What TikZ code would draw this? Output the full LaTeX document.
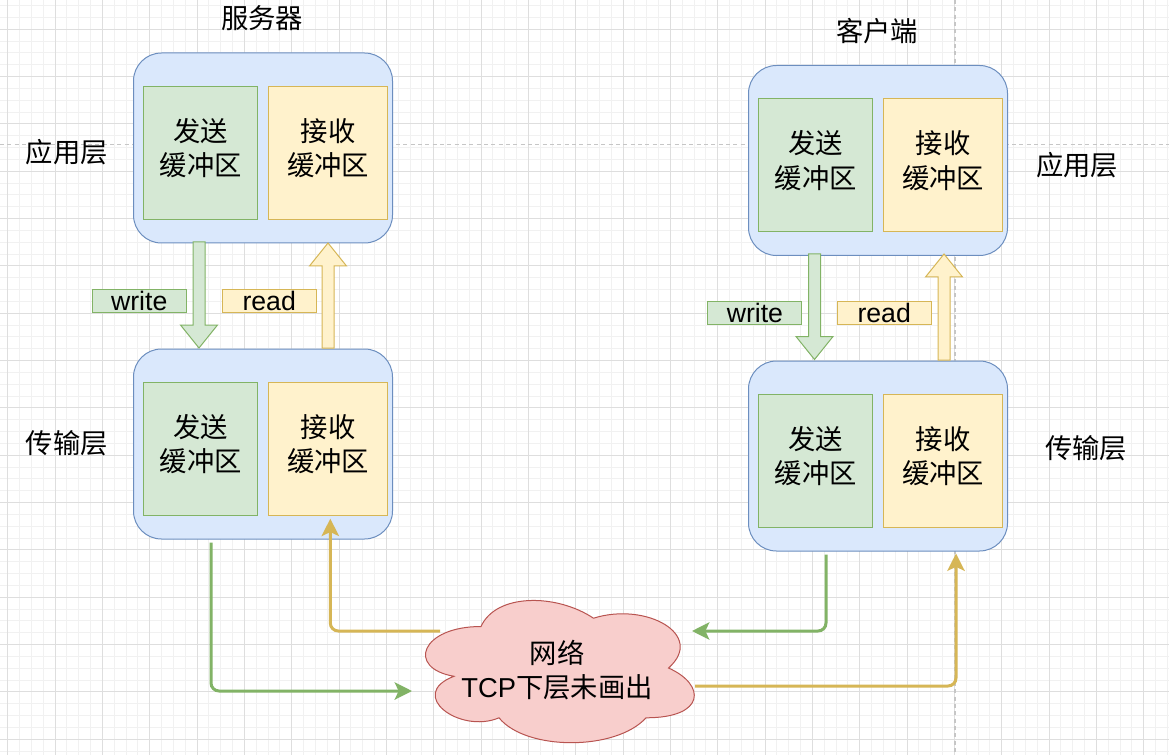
\documentclass[tikz,border=0pt]{standalone}
\usepackage{fontspec}
\newfontfamily\cjk{Noto Sans CJK SC}
\newfontfamily\lat{Liberation Sans}
\usetikzlibrary{arrows.meta,calc}

\definecolor{layerfill}{HTML}{DAE8FC}
\definecolor{layerdraw}{HTML}{6C8EBF}
\definecolor{sendfill}{HTML}{D5E8D4}
\definecolor{senddraw}{HTML}{82B366}
\definecolor{recvfill}{HTML}{FFF2CC}
\definecolor{recvdraw}{HTML}{D6B656}
\definecolor{netfill}{HTML}{F8CECC}
\definecolor{netdraw}{HTML}{B85450}
\definecolor{gridminor}{HTML}{F1F1F1}
\definecolor{gridmajor}{HTML}{DEDEDE}
\definecolor{pagebreak}{HTML}{C6C6C6}

\tikzset{every picture/.style={line width=0.75pt}}
\tikzset{
  txt/.style={font=\cjk\fontsize{20.5}{26}\selectfont, align=center, inner sep=0pt},
  layer/.style={draw=layerdraw, fill=layerfill, rounded corners=21pt, minimum width=194.25pt, minimum height=142.5pt, anchor=north west},
  sendbuf/.style={txt, text depth=8.5pt, draw=senddraw, fill=sendfill, minimum width=85.5pt, minimum height=99.75pt, anchor=north west},
  recvbuf/.style={txt, text depth=8.5pt, draw=recvdraw, fill=recvfill, minimum width=89.25pt, minimum height=99.75pt, anchor=north west},
  tag/.style={font=\lat\fontsize{20}{24}\selectfont, inner sep=0pt, minimum width=70.5pt, minimum height=17.6pt, text height=14.6pt, text depth=0pt, anchor=north west},
  sendtag/.style={tag, draw=senddraw, fill=sendfill},
  recvtag/.style={tag, draw=recvdraw, fill=recvfill},
  sendflow/.style={draw=senddraw, fill=sendfill},
  recvflow/.style={draw=recvdraw, fill=recvfill},
  sendlink/.style={draw=senddraw, line width=2.25pt, rounded corners=6pt, -{Stealth[length=13pt,width=13pt,inset=3pt]}},
  recvlink/.style={draw=recvdraw, line width=2.25pt, rounded corners=6pt, -{Stealth[length=13pt,width=13pt,inset=3pt]}},
}

% block arrow: style, x, tail y, tip y, direction (1 down, -1 up)
\newcommand{\flowarrow}[5]{%
  \draw[#1] ({#2-6},#3) -- ({#2-6},{#4-(#5)*23}) -- ({#2-18.5},{#4-(#5)*23}) -- (#2,#4)
    -- ({#2+18.5},{#4-(#5)*23}) -- ({#2+6},{#4-(#5)*23}) -- ({#2+6},#3) -- cycle ;}

\begin{document}
\begin{tikzpicture}[x=0.75pt,y=-0.75pt]
\useasboundingbox (0,0) rectangle (1169,755);
\fill[white] (0,0) rectangle (1169,755);

%Grid
\foreach \i in {0,...,98}
  \draw[gridminor] ({7.7+\i*11.833},0) -- ({7.7+\i*11.833},755);
\foreach \j in {0,...,63}
  \draw[gridminor] (0,{5.63+\j*11.833}) -- (1169,{5.63+\j*11.833});
\foreach \i in {0,...,24}
  \draw[gridmajor] ({7.7+\i*47.333},0) -- ({7.7+\i*47.333},755);
\foreach \j in {0,...,15}
  \draw[gridmajor] (0,{29.3+\j*47.333}) -- (1169,{29.3+\j*47.333});
%Page breaks
\draw[pagebreak, line width=1.1pt, dash pattern=on 3pt off 2.5pt] (0,144.5) -- (1169,144.5);
\draw[pagebreak, line width=1.1pt, dash pattern=on 3pt off 2.5pt] (955,0) -- (955,755);

% Titles
\node[txt] (srvtitle) at (262,18) {服务器};
\node[txt] (clititle) at (877,31) {客户端};
\node[txt] (srvapplbl) at (67,152) {应用层};
\node[txt] (srvtranslbl) at (67,443) {传输层};
\node[txt] (cliapplbl) at (1077,165) {应用层};
\node[txt] (clitranslbl) at (1086,448) {传输层};

%Server layers
\node[layer] (srvapp) at (133,52.5) {};
\node[sendbuf] (srvasend) at (143.3,85.7) {发送\\缓冲区};
\node[recvbuf] (srvarecv) at (268.3,85.7) {接收\\缓冲区};
\node[layer] (srvtrans) at (133,348.5) {};
\node[sendbuf] (srvtsend) at (143.3,381.7) {发送\\缓冲区};
\node[recvbuf] (srvtrecv) at (268.3,381.7) {接收\\缓冲区};

%Client layers
\node[layer] (cliapp) at (748,65) {};
\node[sendbuf] (cliasend) at (758.3,98.2) {发送\\缓冲区};
\node[recvbuf] (cliarecv) at (883.3,98.2) {接收\\缓冲区};
\node[layer] (clitrans) at (748,360.5) {};
\node[sendbuf] (clitsend) at (758.3,393.7) {发送\\缓冲区};
\node[recvbuf] (clitrecv) at (883.3,393.7) {接收\\缓冲区};

%Block arrows
\flowarrow{sendflow}{199}{242}{348}{1}
\flowarrow{recvflow}{328}{348}{243}{-1}
\flowarrow{sendflow}{814.5}{254}{359.5}{1}
\flowarrow{recvflow}{944}{360}{254}{-1}

% Tags
\node[sendtag] (srvwrite) at (91.7,289) {write};
\node[recvtag] (srvread) at (221.7,289) {read};
\node[sendtag] (cliwrite) at (707.4,301) {write};
\node[recvtag] (cliread) at (836.7,301) {read};

%Shape: Cloud
\draw[draw=netdraw, fill=netfill] (481,626.5) .. controls (421,626.5) and (406,668) .. (454,676.3)
  .. controls (406,694.6) and (460,734.4) .. (499,717.8)
  .. controls (526,751) and (616,751) .. (646,717.8)
  .. controls (706,717.8) and (706,684.6) .. (668.5,668)
  .. controls (706,634.8) and (646,601.6) .. (593.5,618.2)
  .. controls (556,593.3) and (496,593.3) .. (481,626.5) -- cycle ;
\node[txt] (net) at (557,670) {网络\\{\lat TCP}下层未画出};
\coordinate (netinL) at (412,691);
\coordinate (netoutL) at (440,631);
\coordinate (netinR) at (692,631);
\coordinate (netoutR) at (695,686);

%Links
\draw[sendlink] ($(srvtrans.south west)!0.3!(srvtrans.south east)+(0,3)$) |- (netinL);
\draw[recvlink] (netoutL) -| ($(srvtrecv.south)+(2,3)$);
\draw[sendlink] ($(clitrans.south west)!0.3!(clitrans.south east)+(0,3)$) |- (netinR);
\draw[recvlink] (netoutR) -| ($(clitrans.south west)!0.8!(clitrans.south east)+(0,2)$);

\end{tikzpicture}
\end{document}
